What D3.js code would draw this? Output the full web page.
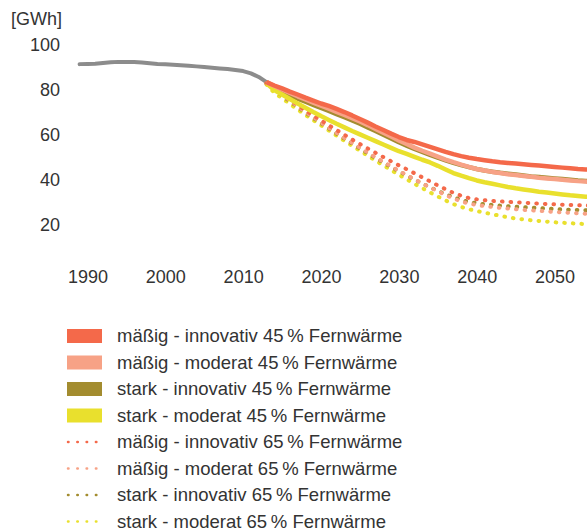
<!DOCTYPE html>
<html><head><meta charset="utf-8">
<script src="https://cdn.jsdelivr.net/npm/d3@7"></script>
<style>
html,body{margin:0;padding:0;background:#fff;}
svg{display:block;font-family:"Liberation Sans",Arial,sans-serif;}
</style></head>
<body>
<script>
// ---- data ----
const histYears = d3.range(1989, 2014);
const histValues = [91.5,91.6,91.7,92.0,92.3,92.5,92.5,92.4,92.2,91.9,91.6,91.4,91.2,91.0,90.8,90.5,90.2,89.9,89.6,89.3,88.9,88.4,87.4,85.8,83.5];

const projYears = d3.range(2013, 2056);
const maessigInnovativ45 = [83.5,82.0,80.7,79.3,78.0,76.6,75.3,74.0,72.9,71.6,70.2,68.7,67.1,65.5,63.8,62.2,60.6,59.1,57.8,56.9,55.8,54.7,53.6,52.5,51.5,50.6,49.9,49.3,48.8,48.3,47.9,47.6,47.3,47.0,46.7,46.4,46.1,45.8,45.5,45.2,44.9,44.7,44.5];
const maessigModerat45 = [83.5,81.8,80.2,78.7,77.2,75.8,74.4,73.0,71.7,70.3,68.9,67.5,66.0,64.4,62.7,61.0,59.3,57.6,56.0,54.4,53.0,51.7,50.4,49.1,47.9,46.8,45.8,44.9,44.2,43.6,43.1,42.6,42.2,41.8,41.4,41.0,40.7,40.4,40.1,39.8,39.5,39.3,39.1];
const starkInnovativ45 = [83.5,81.0,79.2,77.7,76.2,74.8,73.4,72.0,70.7,69.3,67.9,66.5,65.0,63.4,61.8,60.1,58.5,56.8,55.3,53.8,52.5,51.2,49.9,48.7,47.6,46.6,45.7,44.9,44.2,43.7,43.2,42.8,42.4,42.0,41.6,41.3,41.0,40.7,40.4,40.1,39.8,39.6,39.4];
const starkModerat45 = [83.0,80.0,78.0,76.0,74.0,72.1,70.2,68.4,66.7,65.0,63.4,61.8,60.3,58.8,57.3,55.8,54.3,52.8,51.6,50.3,49.0,47.8,46.3,44.7,43.1,41.9,40.8,39.8,39.0,38.3,37.6,36.9,36.3,35.8,35.3,34.8,34.4,34.0,33.6,33.2,32.9,32.6,32.3];
const maessigInnovativ65 = [83.0,80.7,78.2,75.8,73.4,71.0,68.7,66.5,64.3,62.2,60.1,58.0,56.0,54.0,52.1,50.2,48.3,46.5,44.8,43.0,41.2,39.4,37.6,35.9,34.3,33.0,32.0,31.4,31.0,30.7,30.5,30.3,30.1,29.9,29.7,29.5,29.3,29.2,29.0,28.9,28.8,28.7,28.6];
const maessigModerat65 = [83.0,80.4,77.8,75.3,72.8,70.3,67.9,65.5,63.2,60.9,58.7,56.5,54.3,52.2,50.1,48.1,46.1,44.1,42.2,40.3,38.5,36.7,35.0,33.3,31.8,30.5,29.5,28.9,28.4,28.0,27.6,27.3,27.0,26.7,26.5,26.3,26.0,25.8,25.6,25.4,25.2,25.0,24.9];
const starkInnovativ65 = [83.0,80.3,77.6,75.0,72.5,70.0,67.6,65.2,62.9,60.6,58.4,56.2,54.0,51.9,49.8,47.8,45.8,43.9,42.0,40.2,38.5,36.8,35.2,33.7,32.4,31.2,30.3,29.7,29.2,28.9,28.6,28.3,28.1,27.9,27.7,27.5,27.3,27.1,26.9,26.8,26.7,26.6,26.5];
const starkModerat65 = [82.5,78.8,76.3,73.8,71.3,68.9,66.6,64.3,62.0,59.7,57.4,55.2,53.0,50.8,48.6,46.5,44.4,42.3,40.3,38.3,36.4,34.5,32.7,30.9,29.3,28.0,27.0,26.2,25.5,24.8,24.1,23.4,22.9,22.5,22.1,21.8,21.5,21.2,21.0,20.8,20.6,20.4,20.2];

const xTicks = [1990,2000,2010,2020,2030,2040,2050];
const yTicks = [20,40,60,80,100];
const unitLabel = "[GWh]";

const seriesNames = [
  "mäßig - innovativ 45\u2009% Fernwärme",
  "mäßig - moderat 45\u2009% Fernwärme",
  "stark - innovativ 45\u2009% Fernwärme",
  "stark - moderat 45\u2009% Fernwärme",
  "mäßig - innovativ 65\u2009% Fernwärme",
  "mäßig - moderat 65\u2009% Fernwärme",
  "stark - innovativ 65\u2009% Fernwärme",
  "stark - moderat 65\u2009% Fernwärme"
];
const seriesValues = [maessigInnovativ45, maessigModerat45, starkInnovativ45, starkModerat45,
                      maessigInnovativ65, maessigModerat65, starkInnovativ65, starkModerat65];
const colors = ["#F4694A","#F7A286","#A38C2F","#E9E02D","#F4694A","#F7A286","#A38C2F","#E9E02D"];
const dotted = [false,false,false,false,true,true,true,true];
const histColor = "#8C8C8C";

// ---- chart ----
const W = 587, H = 531;
const FONT = "Liberation Sans, Arial, sans-serif";
const svg = d3.select("body").append("svg").attr("width", W).attr("height", H);

const x = d3.scaleLinear().domain([1990, 2050]).range([87.4, 554.6]);
const y = d3.scaleLinear().domain([0, 100]).range([270, 45]);

const textColor = "#333333";

// y axis
const yAxis = svg.append("g").attr("transform", "translate(60,0)")
  .call(d3.axisLeft(y).tickValues(yTicks).tickSize(0).tickPadding(0).tickFormat(d3.format("d")));
yAxis.select(".domain").remove();
yAxis.selectAll("text").attr("font-size", 18).attr("fill", textColor).attr("font-family", FONT);

svg.append("text").attr("x", 62).attr("y", 19).attr("dy", "0.35em")
  .attr("text-anchor", "end").attr("font-size", 18).attr("fill", textColor)
  .attr("font-family", FONT).text(unitLabel);

// x axis
const xAxis = svg.append("g").attr("transform", "translate(0,270.5)")
  .call(d3.axisBottom(x).tickValues(xTicks).tickSize(0).tickPadding(0).tickFormat(d3.format("d")));
xAxis.select(".domain").remove();
xAxis.selectAll("text").attr("font-size", 18).attr("fill", textColor).attr("font-family", FONT);

const line = d3.line().x(d => x(d[0])).y(d => y(d[1]));

// history
svg.append("path")
  .datum(histYears.map((yr, i) => [yr, histValues[i]]))
  .attr("d", line).attr("fill", "none").attr("stroke", histColor)
  .attr("stroke-width", 4).attr("stroke-linecap", "round").attr("stroke-linejoin", "round");

// projections: draw order so that orange solid is on top
const drawOrder = [7,6,5,4,2,3,1,0];
drawOrder.forEach(i => {
  const p = svg.append("path")
    .datum(projYears.map((yr, j) => [yr, seriesValues[i][j]]))
    .attr("d", line).attr("fill", "none").attr("stroke", colors[i])
    .attr("stroke-linejoin", "round");
  if (dotted[i]) {
    p.attr("stroke-width", 4).attr("stroke-linecap", "round").attr("stroke-dasharray", "0.6,8");
  } else {
    p.attr("stroke-width", 4.5);
  }
});

// legend
const legend = svg.append("g");
seriesNames.forEach((name, i) => {
  const cy = 336 + i * 26.5;
  const g = legend.append("g");
  if (dotted[i]) {
    g.append("line").attr("x1", 68).attr("x2", 103).attr("y1", cy).attr("y2", cy)
      .attr("stroke", colors[i]).attr("stroke-width", 2.5).attr("stroke-linecap", "round")
      .attr("stroke-dasharray", "0.5,8.8");
  } else {
    g.append("rect").attr("x", 67).attr("y", cy - 7).attr("width", 35).attr("height", 14)
      .attr("fill", colors[i]);
  }
  g.append("text").attr("x", 117).attr("y", cy).attr("dy", "0.35em")
    .attr("font-size", 18.5).attr("fill", textColor).attr("font-family", FONT).text(name);
});
</script>
</body></html>
